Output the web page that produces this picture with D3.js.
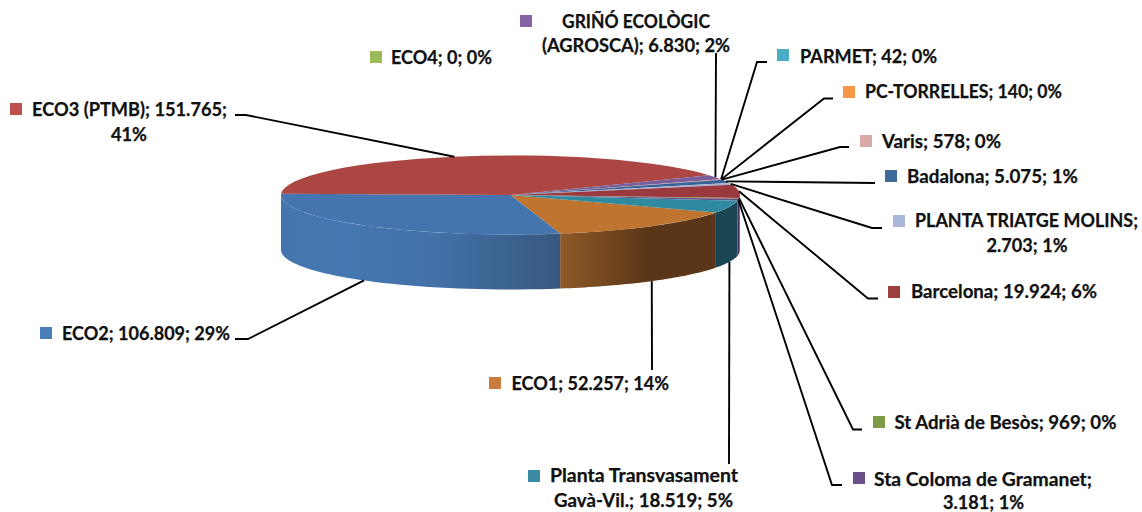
<!DOCTYPE html>
<html>
<head>
<meta charset="utf-8">
<script src="https://cdn.jsdelivr.net/npm/d3@7"></script>
<style>
  html, body { margin: 0; padding: 0; background: #fff; }
  svg { display: block; }
  text { font-family: Lato, sans-serif; font-weight: 700; font-size: 18.3px; fill: #111; stroke: #111; stroke-width: 0.25px; }
</style>
</head>
<body>
<svg></svg>
<script>
const names = ["ECO1", "ECO2", "ECO3 (PTMB)", "ECO4", "GRIÑÓ ECOLÒGIC (AGROSCA)", "PARMET", "PC-TORRELLES", "Varis", "Badalona", "PLANTA TRIATGE MOLINS", "Barcelona", "St Adrià de Besòs", "Sta Coloma de Gramanet", "Planta Transvasament Gavà-Vil."];
const values = [52257, 106809, 151765, 0, 6830, 42, 140, 578, 5075, 2703, 19924, 969, 3181, 18519];

const keyColors = ["#c97c3c", "#4a7ebb", "#c0504d", "#9bbb59", "#8764a6", "#4bacc6", "#f79646", "#dba9a8", "#3f6a9c", "#a9b8d8", "#9c3f3f", "#7d9b45", "#6b4f8a", "#3a8aa3"];
const topColors = ["#bf7430", "#4475ae", "#ab4642", "#9bbb59", "#7a5f9c", "#4bacc6", "#f79646", "#dba9a8", "#3b6296", "#a2b2d4", "#9a3a3e", "#7d9b45", "#6b4f8a", "#2f8aa0"];
const sideDark = ["#5a3517", "#38587f", "#7a2f2d", "#6b8240", "#57446f", "#33778a", "#ab6830", "#977574", "#294468", "#717b93", "#5e2426", "#566b30", "#4a3660", "#1a4552"];
const sideLight = ["#8e5a28", "#4577b2", "#ab4642", "#9bbb59", "#7a5f9c", "#4bacc6", "#f79646", "#dba9a8", "#3b6296", "#a2b2d4", "#7a2f32", "#7d9b45", "#6b4f8a", "#1a4552"];

// lines of text [x, baseline, anchor, width, text], square, leader bend points for each slice
const labelLayout = [
  { lines: [[511.5, 390, "start", 157.5, "ECO1; 52.257; 14%"]], key: [489, 377], bend: [[652, 370]], wall: true },
  { lines: [[62, 340, "start", 168, "ECO2; 106.809; 29%"]], key: [40, 327], bend: [[248, 339], [235, 339]], wall: true },
  { lines: [[32, 116, "start", 195, "ECO3 (PTMB); 151.765;"], [129, 141, "middle", 36, "41%"]], key: [10, 103], bend: [[246, 115], [235, 115]] },
  { lines: [[391, 64, "start", 101, "ECO4; 0; 0%"]], key: [370, 51], bend: null },
  { lines: [[636, 28, "middle", 148, "GRIÑÓ ECOLÒGIC"], [636, 52, "middle", 188, "(AGROSCA); 6.830; 2%"]], key: [520, 15], bend: [[716, 53]] },
  { lines: [[800, 63, "start", 137, "PARMET; 42; 0%"]], key: [777, 49], bend: [[757, 62], [767, 62]] },
  { lines: [[865, 98, "start", 197, "PC-TORRELLES; 140; 0%"]], key: [843, 86], bend: [[824, 98.5], [833, 98.5]] },
  { lines: [[882, 148, "start", 119, "Varis; 578; 0%"]], key: [860, 135], bend: [[840, 147], [849, 147]] },
  { lines: [[907, 183, "start", 171, "Badalona; 5.075; 1%"]], key: [885, 170], bend: [[875, 183]] },
  { lines: [[915, 227, "start", 223, "PLANTA TRIATGE MOLINS;"], [1027, 252, "middle", 81, "2.703; 1%"]], key: [893, 215], bend: [[872, 228], [882, 228]] },
  { lines: [[911, 298, "start", 186, "Barcelona; 19.924; 6%"]], key: [888, 286], bend: [[868, 298.5], [878, 298.5]] },
  { lines: [[894.5, 429, "start", 222, "St Adrià de Besòs; 969; 0%"]], key: [873, 416], bend: [[853, 429.5], [862, 429.5]] },
  { lines: [[874, 486, "start", 218, "Sta Coloma de Gramanet;"], [983.5, 508.5, "middle", 81, "3.181; 1%"]], key: [853, 472], bend: [[832, 485], [842, 485]] },
  { lines: [[644, 481.5, "middle", 188, "Planta Transvasament"], [643.5, 506.5, "middle", 179, "Gavà-Vil.; 18.519; 5%"]], key: [528, 470], bend: [[729, 464]], wall: true }
];

const width = 1142;
const height = 512;
const cx = 510.5;
const cy = 195;
const rx = 229.5;
const ry = 39.5;
const depth = 55;
const startDeg = 116.5;

const svg = d3.select("svg").attr("width", width).attr("height", height);
const defs = svg.append("defs");

const pie = d3.pie().sort(null)
  .startAngle(startDeg * Math.PI / 180)
  .endAngle((startDeg + 360) * Math.PI / 180);
const slices = pie(values);

const px = (a) => cx + rx * Math.sin(a);
const py = (a) => cy - ry * Math.cos(a);

// the wall is only visible on the front half of the ellipse
const wallPath = (d) => {
  const ranges = [[Math.PI / 2, Math.PI * 1.5], [Math.PI * 2.5, Math.PI * 3.5]];
  let out = "";
  ranges.forEach(([lo, hi]) => {
    const a0 = Math.max(d.startAngle, lo);
    const a1 = Math.min(d.endAngle, hi);
    if (a1 <= a0) return;
    const p = d3.path();
    p.moveTo(px(a0), py(a0));
    p.lineTo(px(a0), py(a0) + depth);
    d3.range(0, 41).forEach((i) => {
      const a = a0 + (a1 - a0) * i / 40;
      p.lineTo(px(a), py(a) + depth);
    });
    d3.range(40, -1, -1).forEach((i) => {
      const a = a0 + (a1 - a0) * i / 40;
      p.lineTo(px(a), py(a));
    });
    p.closePath();
    out += p.toString();
  });
  return out;
};

slices.forEach((d, i) => {
  const grad = defs.append("linearGradient")
    .attr("id", "wall" + i)
    .attr("gradientUnits", "userSpaceOnUse")
    .attr("x1", 281).attr("x2", 740).attr("y1", 0).attr("y2", 0);
  if (i === 0) {
    grad.attr("x1", 560).attr("x2", 650);
    grad.append("stop").attr("offset", 0).attr("stop-color", sideLight[i]);
    grad.append("stop").attr("offset", 1).attr("stop-color", sideDark[i]);
  } else if (i === 1) {
    grad.attr("x1", 281).attr("x2", 560);
    grad.append("stop").attr("offset", 0).attr("stop-color", "#4475ae");
    grad.append("stop").attr("offset", 0.2).attr("stop-color", sideLight[i]);
    grad.append("stop").attr("offset", 0.55).attr("stop-color", "#4271a8");
    grad.append("stop").attr("offset", 1).attr("stop-color", sideDark[i]);
  } else {
    grad.append("stop").attr("offset", 0).attr("stop-color", sideLight[i]);
    grad.append("stop").attr("offset", 1).attr("stop-color", sideDark[i]);
  }
});

svg.append("g").selectAll("path")
  .data(slices)
  .enter()
  .append("path")
  .attr("d", wallPath)
  .attr("fill", (d, i) => `url(#wall${i})`);

const arc = d3.arc().innerRadius(0).outerRadius(rx);

svg.append("g")
  .attr("transform", `translate(${cx},${cy}) scale(1,${ry / rx})`)
  .selectAll("path")
  .data(slices)
  .enter()
  .append("path")
  .attr("d", arc)
  .attr("fill", (d, i) => topColors[i]);

// leaders start from the rim at the middle of each slice
const leader = d3.line();
svg.append("g").selectAll("path")
  .data(slices.filter((d, i) => labelLayout[i].bend))
  .enter()
  .append("path")
  .attr("d", (d) => {
    const layout = labelLayout[d.index];
    const mid = (d.startAngle + d.endAngle) / 2;
    const start = [px(mid), py(mid) + (layout.wall ? depth : 0)];
    return leader([start].concat(layout.bend));
  })
  .attr("fill", "none")
  .attr("stroke", "#000")
  .attr("stroke-width", 1.9);

svg.append("g").selectAll("rect")
  .data(labelLayout)
  .enter()
  .append("rect")
  .attr("x", (d) => d.key[0])
  .attr("y", (d) => d.key[1])
  .attr("width", 12)
  .attr("height", 12)
  .attr("fill", (d, i) => keyColors[i]);

svg.append("g").selectAll("text")
  .data(labelLayout.flatMap((d) => d.lines))
  .enter()
  .append("text")
  .attr("x", (d) => d[0])
  .attr("y", (d) => d[1])
  .attr("text-anchor", (d) => d[2])
  .attr("textLength", (d) => d[3])
  .attr("lengthAdjust", "spacingAndGlyphs")
  .text((d) => d[4]);
</script>
</body>
</html>
